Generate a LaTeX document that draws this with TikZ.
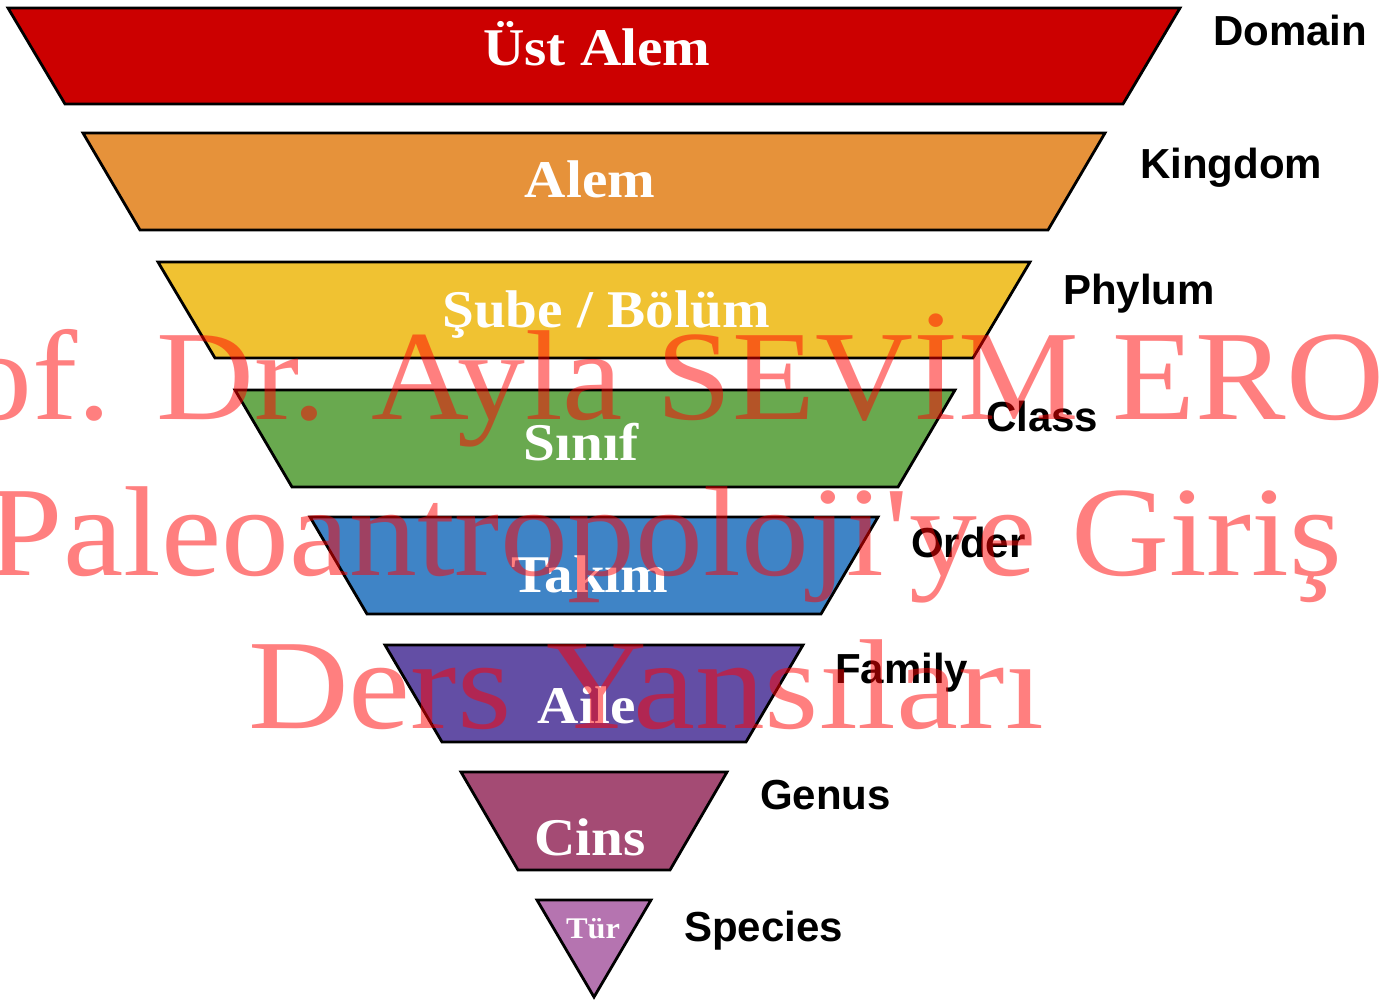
\documentclass[tikz,border=0pt]{standalone}
\usepackage{fontspec}
\setmainfont{Liberation Serif}
\setsansfont{Liberation Sans}
\definecolor{cdomain}{HTML}{CC0000}
\definecolor{ckingdom}{HTML}{E6923A}
\definecolor{cphylum}{HTML}{F0C232}
\definecolor{cclass}{HTML}{69A94F}
\definecolor{corder}{HTML}{3F84C6}
\definecolor{cfamily}{HTML}{634EA5}
\definecolor{cgenus}{HTML}{A44B74}
\definecolor{cspecies}{HTML}{B574B0}
\tikzset{
  level/.style={draw=black, line width=2.8pt, line join=miter},
  inner/.style={text=white, anchor=base, inner sep=0pt, xscale=1.08,
    font=\fontsize{53}{53}\selectfont\bfseries},
  eng/.style={text=black, anchor=base west, inner sep=0pt,
    font=\fontsize{42}{42}\selectfont\sffamily\bfseries},
  wm/.style={text=red, opacity=0.5, text opacity=0.5, inner sep=0pt, xscale=1.06,
    font=\fontsize{128}{128}\selectfont}
}
\begin{document}
\begin{tikzpicture}[x=1pt,y=-1pt]
\useasboundingbox (0,0) rectangle (1381,1000);
\clip (0,0) rectangle (1381,1000);
% levels
\draw[level, fill=cdomain]  (8,8) -- (1180,8) -- (1123,104) -- (65,104) -- cycle;
\draw[level, fill=ckingdom] (83,133) -- (1105,133) -- (1048,230) -- (140,230) -- cycle;
\draw[level, fill=cphylum]  (158,262) -- (1030,262) -- (973,358) -- (215,358) -- cycle;
\draw[level, fill=cclass]   (235,390) -- (955,390) -- (898,487) -- (292,487) -- cycle;
\draw[level, fill=corder]   (310,517) -- (878,517) -- (821,614) -- (367,614) -- cycle;
\draw[level, fill=cfamily]  (385,645) -- (803,645) -- (746,742) -- (442,742) -- cycle;
\draw[level, fill=cgenus]   (461,772) -- (727,772) -- (670,870) -- (518,870) -- cycle;
\draw[level, fill=cspecies] (537,900) -- (651,900) -- (594,997) -- cycle;
% inner labels
\node[inner] (ust) at (597,66) {Üst Alem};
\node[inner] (alem) at (590,198) {Alem};
\node[inner] (sube) at (606,327) {Şube / Bölüm};
\node[inner] (sinif) at (581,460) {Sınıf};
\node[inner] (takim) at (590,592) {Takım};
\node[inner] (aile) at (587,723) {Aile};
\node[inner] (cins) at (590,855) {Cins};
\node[inner, font=\fontsize{30}{30}\selectfont\bfseries] (tur) at (593,938) {Tür};
% english labels
\node[eng] (domain) at (1213,46) {Domain};
\node[eng] (kingdom) at (1140,179) {Kingdom};
\node[eng] (phylum) at (1063,305) {Phylum};
\node[eng] (class) at (986,431) {Class};
\node[eng] (order) at (911,557) {Order};
\node[eng] (family) at (835,683) {Family};
\node[eng] (genus) at (760,809) {Genus};
\node[eng] (species) at (684,941) {Species};
% watermark
\node[wm, anchor=base west] (wm1) at (-156,419) {Prof. Dr. Ayla SEVİM EROL};
\node[wm, anchor=base] (wm2) at (665,575) {Paleoantropoloji\textquotesingle ye Giriş};
\node[wm, anchor=base, xscale=1.09/1.06] (wm3) at (646,728) {Ders Yansıları};
\end{tikzpicture}
\end{document}
